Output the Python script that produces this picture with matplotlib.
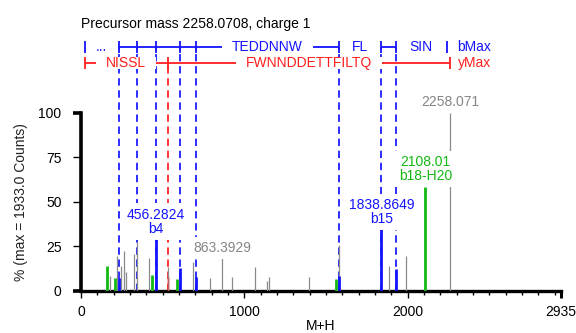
import matplotlib
matplotlib.use("Agg")
import matplotlib.pyplot as plt
from matplotlib.patches import Rectangle
from matplotlib.ticker import MultipleLocator, FixedLocator

plt.rcParams['font.family'] = ['Liberation Sans', 'DejaVu Sans']
plt.rcParams['lines.scale_dashes'] = False

# ---------------- data ----------------
title_text = "Precursor mass 2258.0708, charge 1"
y_label = "% (max = 1933.0 Counts)"
x_label = "M+H"
x_max = 2935
x_ticks = [0, 1000, 2000, 2935]
y_ticks = [0, 25, 50, 75, 100]

# unmatched peaks (grey)
grey_mz = [178, 221, 246, 264, 276, 327, 342, 419, 534, 685, 792, 863.3929,
           923, 1062, 1137, 1150, 1397, 1578, 1886, 1987, 2258.071]
grey_pct = [8.3, 19.5, 14.0, 22.3, 10.7, 20.4, 27.5, 18.2, 13.5, 16.3, 7.0, 18.2,
            7.9, 13.1, 5.6, 7.5, 7.5, 25.5, 13.9, 19.7, 100.0]
# neutral-loss matches (green)
green_mz = [157, 209, 436, 587, 1559, 2108.01]
green_pct = [13.9, 7.0, 8.8, 6.6, 6.4, 58.4]
# b ion matches (blue)
blue_mz = [230, 456.2824, 603.4, 702.4, 1578.7, 1838.8649, 1925.9]
blue_pct = [7.0, 28.9, 12.6, 7.9, 8.3, 34.5, 12.0]
# faint y ion match (light red)
faint_red_mz = [533.3]
faint_red_pct = [7.9]

# fragment ladders
b_ladder_mz = [22.0, 230, 343, 456.28, 603.4, 702.4, 1578.7, 1838.86, 1925.9, 2240.06]
b_gap_labels = ["...", "", "", "", "", "TEDDNNW", "FL", "", "SIN"]
b_gap_lines = [False, True, True, True, True, True, False, True, False]
b_dashed_mz = [230, 343, 456.28, 603.4, 702.4, 1578.7, 1838.86, 1925.9]
y_ladder_mz = [22.0, 533.3, 2258.07]
y_gap_labels = ["NISSL", "FWNNDDETTFILTQ"]
y_gap_lines = [True, True]
y_dashed_mz = [533.3]

# peak annotations
label_mz = [456.2824, 863.3929, 1838.8649, 2108.01, 2258.071]
label_pct = [28.9, 18.2, 34.5, 58.4, 100.0]
label_text = ["456.2824\nb4", "863.3929", "1838.8649\nb15", "2108.01\nb18-H20", "2258.071"]
label_kind = ["b", "grey", "b", "green", "grey"]

# ---------------- style ----------------
BLUE = '#1414ff'
RED = '#ff1e1e'
GREEN = '#14b914'
GREY = '#8a8a8a'
GREY_TXT = '#858585'
kind_color = {"b": BLUE, "green": GREEN, "grey": GREY_TXT}

W, H = 576, 333
fig = plt.figure(figsize=(W / 100, H / 100), dpi=100)
x0_px, x1_px = 81.0, 560.5
y0_px, y1_px = 290.7, 112.7
ax = fig.add_axes([x0_px / W, (H - y0_px) / H, (x1_px - x0_px) / W, (y0_px - y1_px) / H])
ax.set_xlim(0, x_max)
ax.set_ylim(0, 100)
px_per_pct = (y0_px - y1_px) / 100.0


def py(y_px):
    """pixel row (from top) -> percent units of the axes"""
    return (y0_px - y_px) / px_per_pct


b_row = py(46.7)
y_row = py(63.3)
tick_half = 6.0 / px_per_pct
title_row = py(24.0)

# ---------------- peaks ----------------
ax.vlines(grey_mz, 0, grey_pct, colors=GREY, linewidth=0.9, zorder=3)
ax.vlines(faint_red_mz, 0, faint_red_pct, colors=RED, alpha=0.3, linewidth=2.2, zorder=3)
ax.vlines(green_mz, 0, green_pct, colors=GREEN, linewidth=2.0, zorder=3.2)
ax.vlines(blue_mz, 0, blue_pct, colors=BLUE, linewidth=2.0, zorder=3.2)

# ---------------- dashed guide lines ----------------
dash = (0, (5.3, 3.4))
ax.vlines(b_dashed_mz, 0, b_row, colors=BLUE, linewidth=1.25, linestyles=[dash],
          zorder=1.5, clip_on=False)
ax.vlines(y_dashed_mz, 0, y_row, colors=RED, linewidth=1.25, linestyles=[dash],
          zorder=1.5, clip_on=False)

# ---------------- ladders ----------------
ladder_texts = []


def draw_ladder(ions, labels, lines, row, color):
    ax.vlines(ions, row - tick_half, row + tick_half, colors=color, linewidth=1.3,
              zorder=1, clip_on=False)
    for i in range(len(ions) - 1):
        a, b = ions[i], ions[i + 1]
        if lines[i]:
            ax.plot([a, b], [row, row], color=color, linewidth=1.3, zorder=1,
                    clip_on=False, solid_capstyle='butt')
        if labels[i]:
            t = ax.text((a + b) / 2, row, labels[i], color=color, fontsize=10,
                        ha='center', va='center', zorder=4, clip_on=False)
            ladder_texts.append(t)


draw_ladder(b_ladder_mz, b_gap_labels, b_gap_lines, b_row, BLUE)
draw_ladder(y_ladder_mz, y_gap_labels, y_gap_lines, y_row, RED)
ax.annotate("bMax", xy=(b_ladder_mz[-1], b_row), xytext=(7.2, 0), textcoords='offset points',
            ha='left', va='center', color=BLUE, fontsize=10, annotation_clip=False)
ax.annotate("yMax", xy=(y_ladder_mz[-1], y_row), xytext=(5.8, 0), textcoords='offset points',
            ha='left', va='center', color=RED, fontsize=10, annotation_clip=False)

ax.text(0, title_row, title_text, fontsize=10, ha='left', va='center', color='black',
        clip_on=False)

# ---------------- peak labels ----------------
for mz, pct, txt, kind in zip(label_mz, label_pct, label_text, label_kind):
    ax.annotate(txt, xy=(mz, pct), xytext=(0, 2.6), textcoords='offset points',
                ha='center', va='bottom', color=kind_color[kind], fontsize=10,
                linespacing=1.0, zorder=4, annotation_clip=False,
                bbox=dict(boxstyle='square,pad=0.3', fc='white', ec='none'))

# ---------------- axes styling ----------------
for s in ['top', 'right']:
    ax.spines[s].set_visible(False)
ax.spines['left'].set_linewidth(2.6)
ax.spines['bottom'].set_linewidth(2.4)
ax.spines['left'].set_capstyle('projecting')
ax.set_facecolor('none')

ax.xaxis.set_major_locator(FixedLocator(x_ticks))
ax.xaxis.set_minor_locator(MultipleLocator(100))
ax.set_yticks(y_ticks)
ax.tick_params(axis='x', which='major', direction='out', length=5, width=1.0, pad=5,
               labelsize=10)
ax.tick_params(axis='x', which='minor', direction='out', length=3, width=1.0)
ax.tick_params(axis='y', which='major', direction='out', length=5.5, width=1.0, pad=8.5,
               labelsize=10)
yt = ax.yaxis.get_major_ticks()
for i in (0, len(yt) - 1):
    yt[i].tick1line.set_markeredgewidth(2.6)
xt = ax.xaxis.get_major_ticks()
xt[-1].tick1line.set_markeredgewidth(2.2)

ax.set_xlabel(x_label, fontsize=10, labelpad=0)
fig.text(21 / W, 1 - 201.7 / H, y_label, rotation=90, ha='center', va='center',
         fontsize=10, color='#222222')

# ---------------- white masks behind ladder text ----------------
fig.canvas.draw()
renderer = fig.canvas.get_renderer()
inv = ax.transData.inverted()
for t in ladder_texts:
    bb = t.get_window_extent(renderer)
    (mx0, my0) = inv.transform((bb.x0 - 10, bb.y0 + 1))
    (mx1, my1) = inv.transform((bb.x1 + 10, bb.y1 - 1))
    ax.add_patch(Rectangle((mx0, my0), mx1 - mx0, my1 - my0, fc='white', ec='none',
                           zorder=2, clip_on=False))

fig.savefig("out.png", dpi=100)
